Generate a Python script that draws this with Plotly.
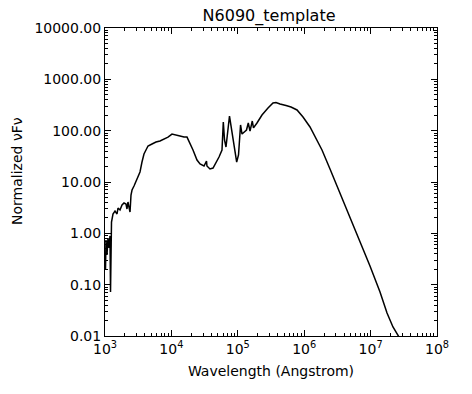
import plotly.graph_objects as go

# Wavelength (Angstrom) and normalized nu*F_nu
wavelength = [1017, 1035, 1072, 1109, 1149, 1189, 1211, 1231, 1253, 1319, 1415, 1517,
              1570, 1683, 1804, 1933, 2071, 2143, 2219, 2297, 2381, 2464, 2553, 2735,
              2931, 3141, 3366, 3606, 3864, 4141, 4444, 5105, 5861, 6730, 7745, 8892,
              10210, 11720, 13490, 15490, 17180, 19060, 21150, 24300, 26980, 30970,
              33790, 34300, 38110, 42360, 46970, 52120, 57810, 60510, 63080, 66400,
              74960, 79000, 84700, 90790, 96200, 102500, 110000, 115700, 124000,
              135200, 143800, 152700, 165300, 172300, 194500, 231300, 285000, 338800,
              375700, 432200, 532300, 632800, 779700, 959700, 1.223e6, 1.506e6,
              1.854e6, 2.447e6, 3.461e6, 4.895e6, 6.925e6, 9.79e6, 1.386e7, 1.767e7,
              2.173e7, 2.68e7, 3.18e7]
flux = [0.193, 0.74, 0.38, 0.81, 0.52, 0.89, 0.072, 0.59, 1.66, 2.38, 2.72, 2.38,
        3.11, 2.85, 3.57, 3.90, 3.73, 2.98, 4.08, 3.25, 2.60, 5.58, 6.98, 8.36,
        10.4, 12.5, 15.7, 24.5, 35.1, 42.0, 50.2, 55.0, 60.0, 63.0, 68.9, 75.0,
        86.0, 82.0, 78.7, 75.0, 75.0, 57.5, 42.0, 26.8, 22.4, 20.5,
        25.6, 20.5, 17.9, 18.7, 23.5, 30.7, 42.0, 147.6, 65.8, 48.0,
        193.0, 123.0, 82.0, 38.4, 24.5, 33.6, 129.0, 86.0, 94.0,
        103.0, 141.0, 98.0, 154.0, 113.0, 141.0, 202.0, 276.0, 346.0,
        354.0, 330.0, 309.0, 289.0, 253.0, 184.0, 118.0, 72.0,
        42.0, 17.9, 6.1, 2.08, 0.708, 0.231, 0.072, 0.028,
        0.015, 0.0095, 0.0066]

x_tickvals = [1e3, 1e4, 1e5, 1e6, 1e7, 1e8]
x_ticktext = ["10<sup>3</sup>", "10<sup>4</sup>", "10<sup>5</sup>",
              "10<sup>6</sup>", "10<sup>7</sup>", "10<sup>8</sup>"]
y_tickvals = [0.01, 0.1, 1, 10, 100, 1000, 10000]
y_ticktext = ["0.01", "0.10", "1.00", "10.00", "100.00", "1000.00", "10000.00"]

x_minor = [m * 10 ** e for e in range(3, 8) for m in range(2, 10)]
y_minor = [m * 10.0 ** e for e in range(-2, 4) for m in range(2, 10)]

FONT = "DejaVu Sans"

fig = go.Figure()
fig.add_trace(go.Scatter(x=wavelength, y=flux, mode="lines",
                         line=dict(color="black", width=1.5), showlegend=False))

fig.update_layout(
    width=472, height=394,
    margin=dict(l=105, r=35, t=28, b=58),
    paper_bgcolor="white", plot_bgcolor="white",
    font=dict(family=FONT, color="black", size=13),
    title=dict(text="N6090_template", x=0.570, xanchor="center", y=0.962,
               yanchor="middle", font=dict(size=16, family=FONT)),
    xaxis=dict(type="log", range=[3, 8], tickvals=x_tickvals, ticktext=x_ticktext,
               ticks="inside", ticklen=6, tickwidth=1, tickcolor="black",
               showline=True, linecolor="black", linewidth=1, mirror="allticks",
               showgrid=False, zeroline=False,
               tickfont=dict(size=14, family=FONT),
               minor=dict(tickvals=x_minor, ticks="inside", ticklen=3,
                          tickcolor="black", showgrid=False),
               title=dict(text="Wavelength (Angstrom)", font=dict(size=14, family=FONT),
                          standoff=10)),
    yaxis=dict(type="log", range=[-2, 4], tickvals=y_tickvals, ticktext=y_ticktext,
               ticks="inside", ticklen=6, tickwidth=1, tickcolor="black",
               showline=True, linecolor="black", linewidth=1, mirror="allticks",
               showgrid=False, zeroline=False,
               tickfont=dict(size=14, family=FONT),
               minor=dict(tickvals=y_minor, ticks="inside", ticklen=3,
                          tickcolor="black", showgrid=False)),
    annotations=[dict(text="Normalized νFν", textangle=-90, xref="paper", yref="paper",
                      x=-0.265, y=0.536, xanchor="center", yanchor="middle",
                      showarrow=False, font=dict(size=14, family=FONT))],
)

# Remove the browser's default 8px body margin so the figure fills the window.
fig.write_html("out.html",
               config={"displayModeBar": False, "staticPlot": True},
               post_script="document.body.style.margin='0px';document.body.style.overflow='hidden';")
